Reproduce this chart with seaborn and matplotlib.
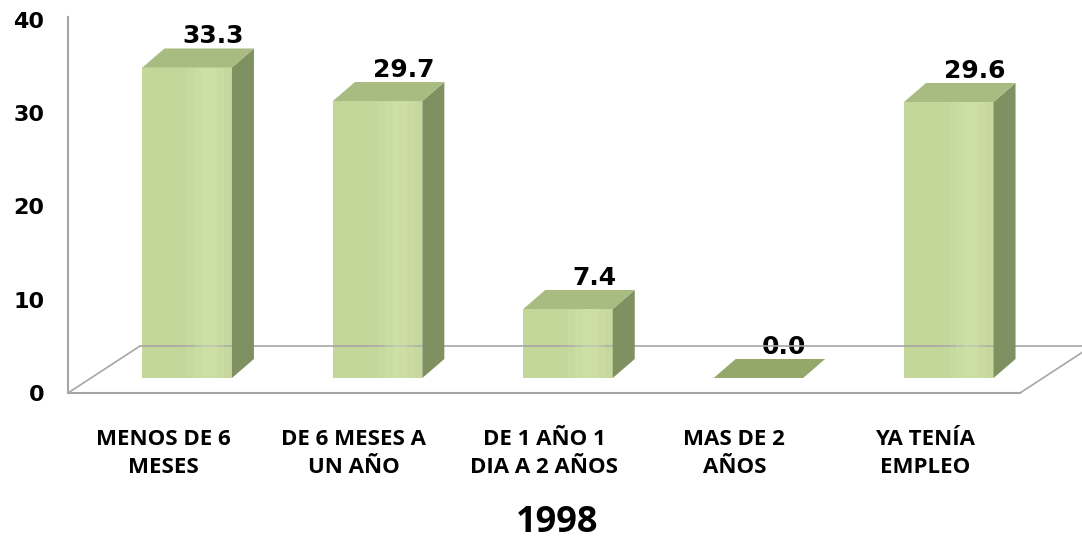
import numpy as np
import matplotlib
matplotlib.use("Agg")
import matplotlib.pyplot as plt
import matplotlib.transforms as mtransforms
from matplotlib.patches import Polygon, Rectangle
from matplotlib.lines import Line2D
import seaborn as sns

categorias = ["MENOS DE 6\nMESES", "DE 6 MESES A\nUN AÑO", "DE 1 AÑO 1\nDIA A 2 AÑOS",
              "MAS DE 2\nAÑOS", "YA TENÍA\nEMPLEO"]
valores = [33.3, 29.7, 7.4, 0.0, 29.6]
ticks_y = [0, 10, 20, 30, 40]
titulo = "1998"

sns.set_style("white")
plt.rcParams['font.family'] = ['DejaVu Sans']
plt.rcParams['text.color'] = 'black'
plt.rcParams['xtick.color'] = 'black'
plt.rcParams['ytick.color'] = 'black'

W, H = 1082, 542
fig = plt.figure(figsize=(W / 100, H / 100), dpi=100)
ax = fig.add_axes([68 / W, (H - 393) / H, (1020 - 68) / W, (393 - 20) / H])

frente = "#c4d79b"
claro = "#d3e5ad"
lado = "#7f9160"
arriba = "#a8bb80"
plano = "#95a86c"
gris = "#a6a6a6"

sns.barplot(x=categorias, y=valores, width=0.47, color=frente, ax=ax,
            saturation=1, edgecolor="none", zorder=3)
ax.set_ylim(0, 40)
ax.set_xlim(-0.5, len(categorias) - 0.5)
ax.set_yticks(ticks_y)
ax.set_xlabel("")
ax.set_ylabel("")

# bars sit a bit deeper than the front edge of the floor
shift = mtransforms.offset_copy(ax.transData, fig=fig, x=24, y=15, units='dots')
ddx, ddy = 22, 19  # depth of each bar, pixels

for p in ax.patches:
    p.set_transform(shift)
    p.set_clip_on(False)
    x0, h, w = p.get_x(), p.get_height(), p.get_width()
    (ax0, ay0), (ax1, ay1) = shift.transform([(x0, 0), (x0 + w, h)])
    if h > 0:
        # soft highlight on the front face
        for k in range(12):
            f = k / 12
            a = np.exp(-((f - 0.7) / 0.18) ** 2) * 0.6
            fig.patches.append(Rectangle((ax0 + f * (ax1 - ax0), ay0), (ax1 - ax0) / 12,
                                         ay1 - ay0, transform=None, color=claro,
                                         alpha=a, lw=0, zorder=4))
        side = Polygon([(ax1, ay0), (ax1 + ddx, ay0 + ddy), (ax1 + ddx, ay1 + ddy), (ax1, ay1)],
                       closed=True, transform=None, color=lado, lw=0, zorder=4)
        top = Polygon([(ax0, ay1), (ax1, ay1), (ax1 + ddx, ay1 + ddy), (ax0 + ddx, ay1 + ddy)],
                      closed=True, transform=None, color=arriba, lw=0, zorder=4)
        fig.patches.extend([side, top])
    else:
        top = Polygon([(ax0, ay0), (ax1, ay0), (ax1 + ddx, ay0 + ddy), (ax0 + ddx, ay0 + ddy)],
                      closed=True, transform=None, color=plano, lw=0, zorder=4)
        fig.patches.append(top)

# floor of the 3d box
(fx0, fy), (fx1, _) = ax.transAxes.transform([(0, 0), (1, 0)])
bdx, bdy = 72, 47
for xs, ys in [([fx0 + bdx, fx1 + bdx + 10], [fy + bdy, fy + bdy]),
               ([fx0, fx0 + bdx], [fy, fy + bdy]),
               ([fx1, fx1 + bdx], [fy, fy + bdy])]:
    fig.lines.append(Line2D(xs, ys, transform=None, color=gris, lw=1.2, zorder=1))

sns.despine(ax=ax, top=True, right=True)
ax.spines['left'].set_color(gris)
ax.spines['bottom'].set_color(gris)
ax.spines['left'].set_linewidth(1.5)
ax.spines['bottom'].set_linewidth(1.5)
ax.spines['left'].set_bounds(0, 40.3)

ax.tick_params(axis='y', length=0, pad=17, labelsize=16, labelcolor='black')
ax.tick_params(axis='x', length=0, pad=26, labelcolor='black')
for t in ax.get_yticklabels():
    t.set_fontweight('bold')
for t in ax.get_xticklabels():
    t.set_fontfamily(['Open Sans', 'DejaVu Sans'])
    t.set_fontweight('bold')
    t.set_fontsize(16)
    t.set_linespacing(1.4)

for i, v in enumerate(valores):
    ax.annotate(f"{v:.1f}", (i, v), xytext=(50, 46), textcoords='offset pixels',
                ha='center', va='center', fontsize=18, fontweight='bold',
                color='black', zorder=6, annotation_clip=False)

fig.text(557 / W, 1 - 523 / H, titulo, ha='center', va='center', fontsize=26,
         fontweight='bold', color='black', family=['Open Sans', 'DejaVu Sans'])

fig.savefig("out.png", dpi=100, facecolor="white")
